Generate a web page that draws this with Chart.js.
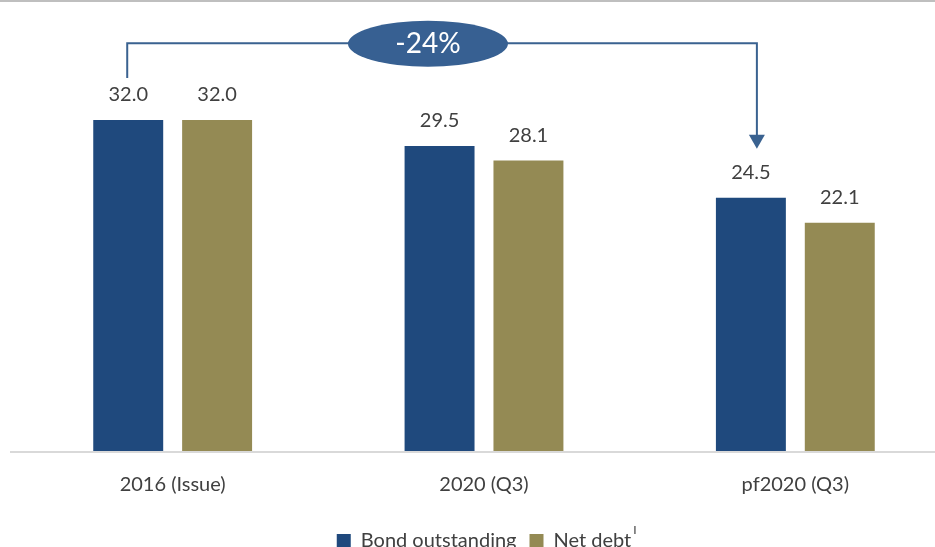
<!DOCTYPE html>
<html>
<head>
<meta charset="utf-8">
<script src="https://cdn.jsdelivr.net/npm/chart.js@4"></script>
<style>
  html, body { margin: 0; padding: 0; background: #fff; overflow: hidden; }
  #wrap { width: 952px; height: 561px; position: relative; }
</style>
</head>
<body>
<div id="wrap"><canvas id="chart-bars"></canvas></div>
<script>
var categories = ["2016 (Issue)", "2020 (Q3)", "pf2020 (Q3)"];
var bondOutstanding = [32.0, 29.5, 24.5];
var netDebt = [32.0, 28.1, 22.1];
var seriesNames = ["Bond outstanding", "Net debt"];
var changeLabel = "-24%";
var footnote = "I";

var textColor = "#404040";
var arrowColor = "#3a6290";

// value labels above each bar
var barLabels = {
  id: "barLabels",
  afterDatasetsDraw: function (chart) {
    var ctx = chart.ctx;
    ctx.save();
    ctx.font = "20px Lato";
    ctx.fillStyle = textColor;
    ctx.textAlign = "center";
    ctx.textBaseline = "middle";
    chart.data.datasets.forEach(function (ds, i) {
      chart.getDatasetMeta(i).data.forEach(function (bar, j) {
        ctx.fillText(ds.data[j].toFixed(1), bar.x, bar.y - 25);
      });
    });
    ctx.restore();
  },
};

// bracket with the -24% bubble, grey rules, footnote in legend
var extras = {
  id: "extras",
  afterDraw: function (chart) {
    var ctx = chart.ctx;
    var x = chart.scales.x;
    var y = chart.scales.y;
    var bars = chart.getDatasetMeta(0).data;
    var first = bars[0];
    var last = bars[bars.length - 1];
    var topY = y.getPixelForValue(39.4);

    ctx.save();
    // top grey rule
    ctx.fillStyle = "#bfbfbf";
    ctx.fillRect(0, 0, chart.width, 2);
    // axis line
    ctx.fillStyle = "#d9d9d9";
    ctx.fillRect(10, y.getPixelForValue(0) - 1, chart.width, 2);

    // bracket
    ctx.strokeStyle = arrowColor;
    ctx.lineWidth = 2;
    ctx.beginPath();
    ctx.moveTo(first.x - 1, first.y - 42);
    ctx.lineTo(first.x - 1, topY);
    ctx.lineTo(last.x + 6, topY);
    ctx.lineTo(last.x + 6, last.y - 62);
    ctx.stroke();
    ctx.fillStyle = arrowColor;
    ctx.beginPath();
    ctx.moveTo(last.x - 2, last.y - 63);
    ctx.lineTo(last.x + 14, last.y - 63);
    ctx.lineTo(last.x + 6, last.y - 49);
    ctx.closePath();
    ctx.fill();

    // bubble
    var cx = x.getPixelForValue(0.82);
    ctx.fillStyle = "#376092";
    ctx.beginPath();
    ctx.ellipse(cx, topY + 0.5, 80, 23, 0, 0, Math.PI * 2);
    ctx.fill();
    ctx.fillStyle = "#fff";
    ctx.font = "28px Lato";
    ctx.textAlign = "center";
    ctx.textBaseline = "middle";
    ctx.fillText(changeLabel, cx, topY + 1);

    // footnote marker on legend
    var boxes = chart.legend.legendHitBoxes;
    if (boxes && boxes.length > 1) {
      var b = boxes[1];
      ctx.fillStyle = textColor;
      ctx.font = "12px Lato";
      ctx.textAlign = "left";
      ctx.textBaseline = "middle";
      ctx.fillText(footnote, b.left + b.width + 2, b.top - 1);
    }
    ctx.restore();
  },
};

var ctx = document.getElementById("chart-bars").getContext("2d");
new Chart(ctx, {
  type: "bar",
  data: {
    labels: categories,
    datasets: [
      {
        label: seriesNames[0],
        data: bondOutstanding,
        backgroundColor: "#1f497d",
        categoryPercentage: 0.571,
        barPercentage: 0.787,
      },
      {
        label: seriesNames[1],
        data: netDebt,
        backgroundColor: "#948a54",
        categoryPercentage: 0.571,
        barPercentage: 0.787,
      },
    ],
  },
  options: {
    responsive: true,
    maintainAspectRatio: false,
    animation: false,
    layout: {
      padding: { left: 17, right: 1, top: 37, bottom: 0 },
    },
    plugins: {
      legend: {
        position: "bottom",
        labels: {
          boxWidth: 14,
          boxHeight: 14,
          padding: 13,
          color: textColor,
          font: { size: 20, family: "Lato" },
        },
      },
      tooltip: { enabled: false },
    },
    scales: {
      y: {
        display: false,
        min: 0,
        max: 40,
      },
      x: {
        grid: { display: false, drawTicks: false },
        border: { display: false },
        ticks: {
          padding: 21,
          color: textColor,
          font: { size: 20, family: "Lato" },
        },
      },
    },
  },
  plugins: [barLabels, extras],
});
</script>
</body>
</html>
